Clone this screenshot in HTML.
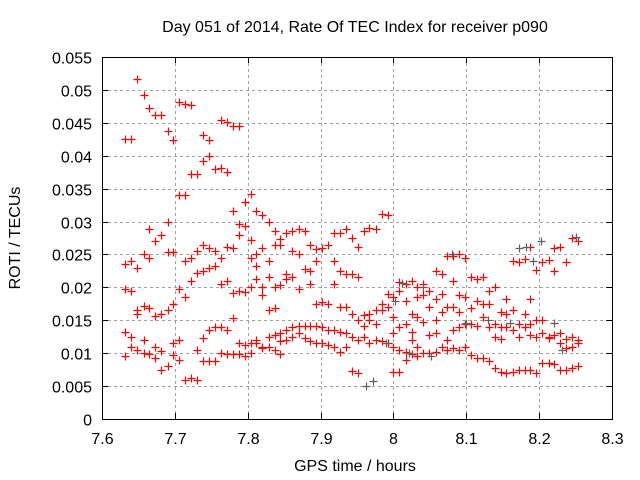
<!DOCTYPE html>
<html><head><meta charset="utf-8"><style>
body{margin:0;background:#fff}
svg{display:block;font-family:"Liberation Sans",sans-serif}
</style></head><body>
<svg id="chart" width="640" height="480" viewBox="0 0 640 480">
<rect width="640" height="480" fill="#fff"/>
<g id="grid"></g>
<g id="axes"></g>
<g id="marks"></g>
<text x="355" y="32" font-size="16" text-anchor="middle">Day 051 of 2014, Rate Of TEC Index for receiver p090</text>
<text x="355" y="471" font-size="16" text-anchor="middle">GPS time / hours</text>
<text x="0" y="0" font-size="16" text-anchor="middle" transform="translate(20,238) rotate(-90)">ROTI / TECUs</text>
</svg>
<script>
const xTicks=[7.6,7.7,7.8,7.9,8.0,8.1,8.2,8.3];
const xTickLabels=["7.6","7.7","7.8","7.9","8","8.1","8.2","8.3"];
const yTicks=[0,0.005,0.01,0.015,0.02,0.025,0.03,0.035,0.04,0.045,0.05,0.055];
const yTickLabels=["0","0.005","0.01","0.015","0.02","0.025","0.03","0.035","0.04","0.045","0.05","0.055"];
const times=[7.632,7.640,7.648,7.657,7.665,7.673,7.681,7.690,7.698,7.706,7.714,7.722,7.731,7.739,7.747,7.755,7.763,7.771,7.780,7.788,7.796,7.804,7.812,7.820,7.829,7.837,7.845,7.853,7.861,7.870,7.878,7.886,7.894,7.902,7.910,7.918,7.927,7.935,7.943,7.951,7.959,7.967,7.976,7.984,7.992,8.000,8.008,8.017,8.025,8.033,8.041,8.049,8.058,8.066,8.074,8.082,8.090,8.098,8.107,8.115,8.123,8.131,8.139,8.147,8.155,8.164,8.172,8.180,8.188,8.196,8.204,8.213,8.221,8.229,8.237,8.245,8.254];
const rotiMilli=[
[42.5,23.5,19.8,13.2,9.5],[42.5,24.0,19.5,12.5,11.0],[51.7,23.0,16.0,10.5,16.5],[49.2,25.0,17.2,10.0,12.0],
[47.3,24.5,16.8,9.8,28.8],[46.2,27.0,15.7,9.2,11.0],[46.2,28.0,16.0,7.5,10.3],[43.7,30.0,16.5,8.0,25.3],
[42.4,25.3,17.5,9.7,11.6],[48.2,34.1,19.8,9.0,12.0],[47.8,34.1,18.5,6.0,24.0],[47.7,37.2,21.0,6.2,24.5],
[37.2,22.2,6.0,10.5,25.5],[43.1,39.2,26.5,22.5,12.3,8.8],[42.4,40.0,26.0,23.0,13.5,8.8],[38.0,25.5,23.3,14.0,8.8],
[45.5,38.1,24.5,20.5,14.0,10.0],[45.2,37.5,26.2,21.0,13.5,9.8],[44.5,31.6,26.0,19.2,15.3,9.8],[44.5,29.6,28.0,19.5,11.5,9.8],
[33.0,29.3,19.3,11.2,9.5],[34.2,27.2,24.5,20.0,11.5,10.0],[31.6,25.0,23.3,21.3,12.0,11.5],[31.0,26.0,20.0,18.8,10.8,11.0],
[30.0,24.0,21.5,16.5,11.0,12.5],[28.5,26.5,20.0,16.8,12.8,10.5],[27.3,26.5,20.3,13.0,11.8,9.8],[28.2,22.0,21.2,13.5,12.0],
[28.5,25.5,21.5,14.0,12.5],[28.8,25.0,19.8,14.2,13.0],[28.5,22.8,14.2,12.3],[26.5,22.5,20.5,14.2,11.8],
[25.8,24.0,17.5,14.2,11.5],[26.0,17.8,14.0,11.5],[26.5,17.5,13.5,11.3],[28.3,24.0,20.5,13.5,11.0],
[28.3,22.5,17.0,13.2,10.2],[28.8,22.0,17.0,13.0,11.0],[27.5,22.0,16.0,12.5,7.3],[26.2,21.5,15.0,12.0,7.0],
[28.5,15.8,14.2,12.5],[29.0,15.0,16.0,11.5],[28.8,16.5,14.5,12.0],[31.2,16.5,17.5,11.8],
[31.0,19.0,17.0,11.5],[18.5,15.5,11.0,7.2,13.0],[20.8,19.5,14.0,10.5,7.2],[20.5,18.0,14.5,10.2,9.0],
[21.0,16.0,12.0,9.8,13.2],[20.0,18.5,15.5,11.0,9.5],[20.5,18.8,14.8,10.0],[19.5,17.0,12.8,10.0],
[22.5,18.3,15.0,10.2,13.0],[22.0,19.0,16.2,11.0],[24.8,17.0,12.0,10.5],[24.8,21.0,17.0,13.5,10.8],
[25.0,18.8,16.2,14.0,10.5],[24.5,18.5,14.5,11.0],[21.5,16.8,14.5,9.7],[21.2,18.0,14.2,9.2],
[21.5,17.5,15.5,9.2],[19.5,17.5,14.0,8.8],[20.0,14.5,12.5,7.8],[16.2,14.0,12.2,7.2],
[18.3,16.0,14.0,7.0],[24.0,16.5,13.5,7.2],[23.8,14.5,12.5,7.5],[24.3,16.0,14.0,7.5],
[26.2,18.3,14.5,12.8,7.5],[22.7,15.0,12.5,7.0],[23.8,15.0,13.0,8.5],[24.2,12.5,12.3,8.5],
[22.5,26.0,12.8,8.3],[26.2,13.0,11.5,7.5],[23.8,12.2,10.8,7.5],[27.5,11.0,12.5,7.7],[27.0,12.0,11.5,8.0]];
const grayTimes=[7.962,7.972,7.990,8.002,8.012,8.022,8.040,8.052,8.080,8.100,8.130,8.160,8.172,8.182,8.192,8.202,8.220,8.232,8.250];
const grayMilli=[5.0,5.8,11.6,18.0,20.6,10.0,20.0,9.6,25.0,14.6,15.0,14.6,26.0,26.2,24.0,27.0,14.6,10.5,27.6];

const L=102,R=612,T=57,B=419;
const xs=v=>L+(v-7.6)/(8.3-7.6)*(R-L);
const ys=v=>B-(v/0.055)*(B-T);
const NS="http://www.w3.org/2000/svg";
function mk(tag,attrs,parent){const e=document.createElementNS(NS,tag);for(const k in attrs)e.setAttribute(k,attrs[k]);parent.appendChild(e);return e;}
const grid=document.getElementById('grid'),axes=document.getElementById('axes'),marks=document.getElementById('marks');
xTicks.forEach((t,i)=>{
  const x=Math.round(xs(t))+0.5;
  if(i>0&&i<xTicks.length-1){const g=mk('line',{x1:x,x2:x,y1:T,y2:B,stroke:'#a0a0a0','stroke-dasharray':'3,3'},grid);
  
  }
  mk('line',{x1:x,x2:x,y1:B,y2:B-6,stroke:'#000'},axes);
  mk('line',{x1:x,x2:x,y1:T,y2:T+6,stroke:'#000'},axes);
  const tx=mk('text',{x:x,y:444,'font-size':16,'text-anchor':'middle'},axes);tx.textContent=xTickLabels[i];
  
  
});
yTicks.forEach((t,i)=>{
  const y=Math.round(ys(t))+0.5;
  if(i>0&&i<yTicks.length-1){const g=mk('line',{x1:L,x2:R,y1:y,y2:y,stroke:'#a0a0a0','stroke-dasharray':'3,3'},grid);
  
  }
  mk('line',{x1:L,x2:L+6,y1:y,y2:y,stroke:'#000'},axes);
  mk('line',{x1:R,x2:R-6,y1:y,y2:y,stroke:'#000'},axes);
  const tx=mk('text',{x:92,y:y+6,'font-size':16,'text-anchor':'end'},axes);tx.textContent=yTickLabels[i];
  
  
});
const fr=mk('rect',{x:L+0.5,y:T+0.5,width:R-L,height:B-T,fill:'none',stroke:'#000'},axes);


function plus(x,y,c){const p=mk('path',{d:`M${x-4},${y}H${x+4}M${x},${y-4}V${y+4}`,stroke:c,'stroke-width':1.2,fill:'none'},marks);return p;}
times.forEach((t,i)=>{rotiMilli[i].forEach(v=>{
  const p=plus(Math.round(xs(t))+0.5,Math.round(ys(v/1000))+0.5,'#ff0000');
  
  
});});
grayTimes.forEach((t,i)=>{
  const p=plus(Math.round(xs(t))+0.5,Math.round(ys(grayMilli[i]/1000))+0.5,'#606060');
  
  
});
</script>
</body></html>
